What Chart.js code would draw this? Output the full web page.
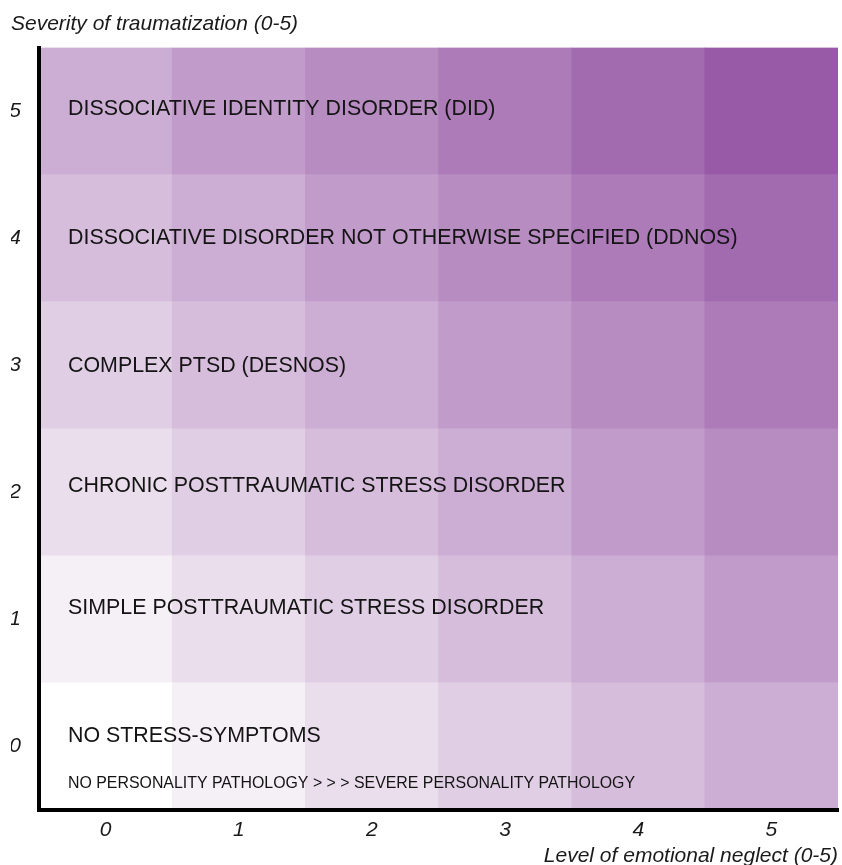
<!DOCTYPE html>
<html>
<head>
<meta charset="utf-8">
<script src="https://cdn.jsdelivr.net/npm/chart.js@4/dist/chart.umd.min.js"></script>
<style>
  html, body { margin: 0; padding: 0; background: #ffffff; }
  #wrap { width: 842px; height: 865px; position: relative; }
</style>
</head>
<body>
<div id="wrap"><canvas id="c" width="842" height="865"></canvas></div>
<script>
// ---- data ----
const xCategories = ['0', '1', '2', '3', '4', '5'];          // level of emotional neglect
const yTickValues = [0, 1, 2, 3, 4, 5];                        // severity of traumatization
// shading intensity of each cell (row = severity 0..5, column = neglect 0..5)
const row0 = [0, 1, 2, 3, 4, 5];
const row1 = [1, 2, 3, 4, 5, 6];
const row2 = [2, 3, 4, 5, 6, 7];
const row3 = [3, 4, 5, 6, 7, 8];
const row4 = [4, 5, 6, 7, 8, 9];
const row5 = [5, 6, 7, 8, 9, 10];
const intensityRows = [row0, row1, row2, row3, row4, row5];
const maxIntensity = 10;
const rowLabels = [
  'NO STRESS-SYMPTOMS',
  'SIMPLE POSTTRAUMATIC STRESS DISORDER',
  'CHRONIC POSTTRAUMATIC STRESS DISORDER',
  'COMPLEX PTSD (DESNOS)',
  'DISSOCIATIVE DISORDER NOT OTHERWISE SPECIFIED (DDNOS)',
  'DISSOCIATIVE IDENTITY DISORDER (DID)'
];
const rowLabelValues = [0.08, 1.085, 2.045, 2.99, 4.0, 5.015];
const footnoteText = 'NO PERSONALITY PATHOLOGY > > > SEVERE PERSONALITY PATHOLOGY';
const footnoteValue = -0.29;
const yTitle = 'Severity of traumatization (0-5)';
const xTitle = 'Level of emotional neglect (0-5)';

// ---- styling ----
const FONT = '"Liberation Sans", Arial, Helvetica, sans-serif';
const lowColor = [255, 255, 255];
const highColor = [152, 90, 166];
function shade(v) {
  const t = v / maxIntensity;
  const c = lowColor.map((lo, i) => Math.round(lo + (highColor[i] - lo) * t));
  return `rgb(${c[0]},${c[1]},${c[2]})`;
}

const datasets = intensityRows.map((vals, r) => ({
  label: 'severity ' + yTickValues[r],
  data: xCategories.map(() => [yTickValues[r] - 0.5, yTickValues[r] + 0.5]),
  backgroundColor: vals.map(shade),
  borderWidth: 0,
  barPercentage: 1,
  categoryPercentage: 1,
  grouped: false
}));

const labelPlugin = {
  id: 'rowLabels',
  afterDatasetsDraw(chart) {
    const { ctx, chartArea, scales } = chart;
    ctx.save();
    ctx.fillStyle = '#141414';
    ctx.textAlign = 'left';
    ctx.textBaseline = 'middle';
    ctx.font = '21.4px ' + FONT;
    const x = chartArea.left + 29;
    rowLabels.forEach((t, i) => {
      ctx.fillText(t, x, scales.y.getPixelForValue(rowLabelValues[i]));
    });
    ctx.font = '15.9px ' + FONT;
    ctx.fillText(footnoteText, x, scales.y.getPixelForValue(footnoteValue));
    ctx.restore();
  }
};

new Chart(document.getElementById('c'), {
  type: 'bar',
  data: { labels: xCategories, datasets },
  options: {
    responsive: false,
    animation: false,
    events: [],
    layout: { padding: { left: 11, right: 4, top: 0, bottom: 0 } },
    plugins: {
      legend: { display: false },
      tooltip: { enabled: false },
      title: {
        display: true,
        text: yTitle,
        align: 'start',
        color: '#1a1a1a',
        font: { family: FONT, size: 21, style: 'italic', weight: 'normal', lineHeight: 1.2 },
        padding: { top: 11.2, bottom: 11.1 }
      }
    },
    scales: {
      x: {
        type: 'category',
        offset: true,
        grid: { display: false, drawTicks: false },
        border: { display: true, color: '#000', width: 4, z: 1 },
        ticks: {
          color: '#1a1a1a',
          padding: 7.4,
          font: { family: FONT, size: 21, style: 'italic', lineHeight: 1.2 }
        },
        title: {
          display: true,
          text: xTitle,
          align: 'end',
          color: '#1a1a1a',
          font: { family: FONT, size: 21, style: 'italic', lineHeight: 0.8 },
          padding: { top: 0, bottom: 0 }
        },
        afterFit(scale) { scale.height = 55; }
      },
      y: {
        type: 'linear',
        min: -0.5,
        max: 5.5,
        grid: { display: false, drawTicks: false },
        border: { display: true, color: '#000', width: 4, z: 1 },
        afterBuildTicks(scale) { scale.ticks = yTickValues.map(v => ({ value: v })); },
        ticks: {
          color: '#1a1a1a',
          padding: 18,
          font: { family: FONT, size: 21, style: 'italic', lineHeight: 1.2 },
          callback: (v) => String(v)
        },
        afterFit(scale) { scale.width = 28; }
      }
    }
  },
  plugins: [labelPlugin]
});
</script>
</body>
</html>
